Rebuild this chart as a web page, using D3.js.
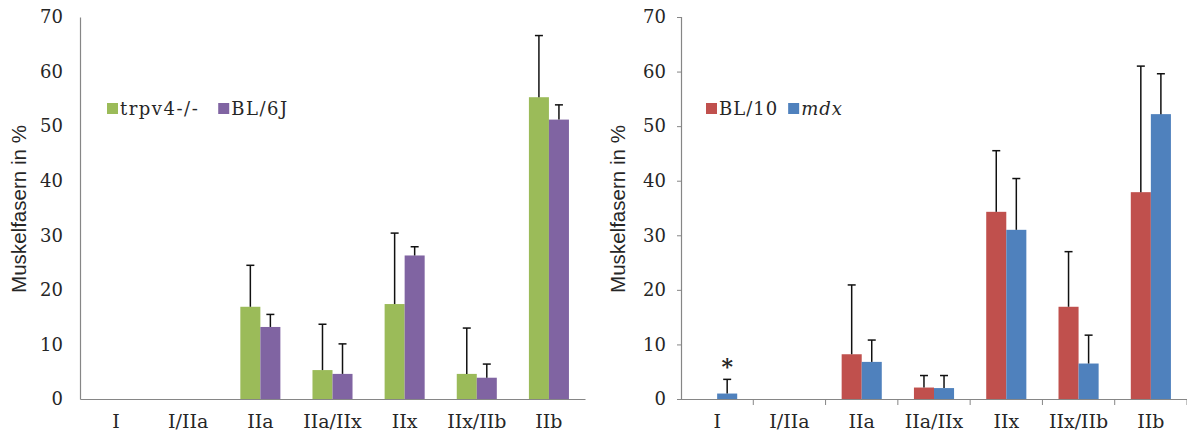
<!DOCTYPE html>
<html><head><meta charset="utf-8">
<script src="https://cdn.jsdelivr.net/npm/d3@7"></script>
<style>body{margin:0;background:#fff}svg{display:block}</style>
</head><body>
<svg id="c" width="1187" height="434"></svg>
<script>
const categories = ["I","I/IIa","IIa","IIa/IIx","IIx","IIx/IIb","IIb"];
const yTicks = [0,10,20,30,40,50,60,70];

const leftSeriesNames = ["trpv4-/-","BL/6J"];
const leftColors = ["#9BBB59","#8064A2"];
const trpv4Values = [0,0,16.9,5.3,17.4,4.6,55.3];
const trpv4Errors = [0,0,7.6,8.4,13.0,8.4,11.3];
const bl6jValues  = [0,0,13.2,4.6,26.3,3.9,51.2];
const bl6jErrors  = [0,0,2.3,5.5,1.6,2.5,2.7];

const rightSeriesNames = ["BL/10","mdx"];
const rightColors = ["#C0504D","#4F81BD"];
const bl10Values = [0,0,8.2,2.1,34.3,16.9,37.9];
const bl10Errors = [0,0,12.7,2.2,11.2,10.1,23.1];
const mdxValues  = [1.0,0,6.8,2.0,31.0,6.5,52.2];
const mdxErrors  = [2.6,0,4.0,2.3,9.4,5.2,7.4];
const markers = [{cat:"I", series:1, text:"*"}];

const svg = d3.select("#c");
const serif = "DejaVu Serif";
const sans = "Liberation Sans";

function drawChart(o){
  const g = svg.append("g");
  const y = d3.scaleLinear().domain([0,70]).range([399,17]);
  const x0 = d3.scaleBand().domain(categories).range([o.x0,o.x1]).paddingInner(0.445).paddingOuter(0.2225);
  const x1 = d3.scaleBand().domain([0,1]).range([0,x0.bandwidth()]);
  const series = [{v:o.v1,e:o.e1},{v:o.v2,e:o.e2}];

  // y axis
  const ya = d3.axisLeft(y).tickValues(yTicks).tickSize(o.ticks?4:0).tickPadding(o.ticks?11:17);
  const yg = g.append("g").attr("transform",`translate(${o.x0},0)`).call(ya);
  yg.attr("font-family",serif).attr("font-size",18);
  yg.select(".domain").attr("stroke","#868686").attr("stroke-width",1.2);
  yg.selectAll(".tick line").attr("stroke","#868686");
  yg.selectAll(".tick text").attr("fill","#262626");

  // bars
  series.forEach((s,si)=>{
    g.append("g").selectAll("rect").data(categories).join("rect")
      .attr("x",c=>x0(c)+x1(si))
      .attr("y",(c,i)=>y(s.v[i]))
      .attr("width",x1.bandwidth())
      .attr("height",(c,i)=>y(0)-y(s.v[i]))
      .attr("fill",o.colors[si]);
  });
  // error bars
  series.forEach((s,si)=>{
    const eg = g.append("g").attr("stroke","#111").attr("stroke-width",1.5);
    categories.forEach((c,i)=>{
      if(!s.e[i]) return;
      const cx = x0(c)+x1(si)+x1.bandwidth()/2;
      eg.append("line").attr("x1",cx).attr("x2",cx).attr("y1",y(s.v[i])).attr("y2",y(s.v[i]+s.e[i]));
      eg.append("line").attr("x1",cx-4).attr("x2",cx+4).attr("y1",y(s.v[i]+s.e[i])).attr("y2",y(s.v[i]+s.e[i]));
    });
  });

  // x axis
  const xa = d3.axisBottom(x0).tickSize(0).tickPadding(16);
  const xg = g.append("g").attr("transform",`translate(0,${y(0)})`).call(xa);
  xg.attr("font-family",serif).attr("font-size",19);
  xg.select(".domain").attr("stroke","#868686").attr("stroke-width",1.2);
  xg.selectAll(".tick text").attr("fill","#262626");
  if(o.ticks){
    const step = x0.step();
    g.append("g").selectAll("line").data(d3.range(1,categories.length+1)).join("line")
      .attr("x1",d=>o.x0+d*step).attr("x2",d=>o.x0+d*step)
      .attr("y1",y(0)).attr("y2",y(0)+6).attr("stroke","#868686");
  }

  // y title
  g.append("text").attr("transform",`translate(${o.titleX},209) rotate(-90)`)
    .attr("text-anchor","middle").attr("font-family",sans).attr("font-size",20).attr("fill","#262626")
    .attr("textLength",168).attr("lengthAdjust","spacingAndGlyphs")
    .text("Muskelfasern in %");

  // legend
  const lg = g.append("g").attr("transform",`translate(${o.legX},0)`);
  let lx = 0;
  o.names.forEach((n,i)=>{
    lg.append("rect").attr("x",lx).attr("y",103).attr("width",11).attr("height",11).attr("fill",o.colors[i]);
    const t = lg.append("text").attr("x",lx+13).attr("y",115).attr("font-family",serif).attr("font-size",18).attr("fill","#262626")
      .attr("letter-spacing",o.ls).attr("font-style",o.italic[i]?"italic":"normal").text(n);
    lx += t.node().getComputedTextLength()+13+o.legGap;
  });

  if(o.markers){
    o.markers.forEach(m=>{
      const i = categories.indexOf(m.cat);
      const s = series[m.series];
      g.append("text").attr("x",x0(m.cat)+x1(m.series)+x1.bandwidth()/2)
        .attr("y",y(s.v[i]+s.e[i])-5).attr("text-anchor","middle")
        .attr("font-family",serif).attr("font-size",22).attr("font-weight","bold").attr("fill","#262626").text(m.text);
    });
  }
}

drawChart({x0:80,x1:585,v1:trpv4Values,e1:trpv4Errors,v2:bl6jValues,e2:bl6jErrors,colors:leftColors,
  names:leftSeriesNames,italic:[false,false],ticks:false,titleX:26,legX:107,legGap:19,ls:1.5});
drawChart({x0:681,x1:1187,v1:bl10Values,e1:bl10Errors,v2:mdxValues,e2:mdxErrors,colors:rightColors,
  names:rightSeriesNames,italic:[false,true],ticks:true,titleX:625,legX:706,legGap:10,ls:1,markers:markers});
</script>
</body></html>
